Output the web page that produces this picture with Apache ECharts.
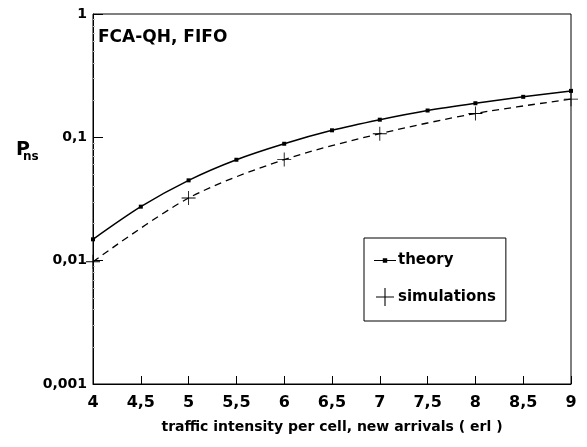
<!DOCTYPE html>
<html>
<head>
<meta charset="utf-8">
<script src="https://cdn.jsdelivr.net/npm/echarts@6/dist/echarts.min.js"></script>
<style>
  html, body { margin: 0; padding: 0; background: #fff; }
  #chart { width: 587px; height: 447px; }
</style>
</head>
<body>
<div id="chart"></div>
<script>
// traffic intensity (erl) and blocking probability
const theoryX = [4, 4.5, 5, 5.5, 6, 6.5, 7, 7.5, 8, 8.5, 9];
const theoryY = [0.0149, 0.0274, 0.0448, 0.0658, 0.0887, 0.114, 0.139, 0.165, 0.189, 0.213, 0.238];
const simX = [4, 5, 6, 7, 8, 9];
const simY = [0.0098, 0.0322, 0.066, 0.107, 0.156, 0.204];

const font = '"DejaVu Sans", "Liberation Sans", sans-serif';
const plus = 'path://M0,9.4H20V10.6H0Z M9.4,0H10.6V20H9.4Z';
// legend sample for theory: thin line with a small square in the middle
const lineSquare = 'path://M0,6.5H8V5H12V6.5H20V7.5H12V9H8V7.5H0Z';

const chart = echarts.init(document.getElementById('chart'));

const options = {
  animation: false,
  backgroundColor: '#fff',
  grid: {
    left: 93, right: 16, top: 14, bottom: 63,
    show: true, borderColor: '#000', borderWidth: 1
  },
  xAxis: {
    type: 'value',
    min: 4, max: 9, interval: 0.5,
    name: 'traffic intensity per cell, new arrivals ( erl )',
    nameLocation: 'middle',
    nameGap: 36,
    nameTextStyle: { color: '#000', fontFamily: font, fontWeight: 'bold', fontSize: 14 },
    axisLine: { lineStyle: { color: '#000', width: 1 } },
    axisTick: { inside: true, length: 8, lineStyle: { color: '#000' } },
    axisLabel: {
      color: '#000', fontFamily: font, fontWeight: 'bold', fontSize: 16, margin: 11,
      formatter: v => String(v).replace('.', ',')
    },
    splitLine: { show: false }
  },
  yAxis: {
    type: 'log',
    logBase: 10,
    min: 0.001, max: 1,
    axisLine: { lineStyle: { color: '#000', width: 1 } },
    axisTick: { inside: true, length: 10, lineStyle: { color: '#000' } },
    minorTick: { show: true, splitNumber: 9, length: 2, lineStyle: { color: '#bbb' } },
    axisLabel: {
      color: '#000', fontFamily: font, fontWeight: 'bold', fontSize: 14, margin: 6,
      formatter: v => String(+v.toPrecision(3)).replace('.', ',')
    },
    splitLine: { show: false }
  },
  legend: {
    left: 364, top: 238,
    orient: 'vertical',
    borderColor: '#000', borderWidth: 1,
    padding: [15, 10, 15, 10],
    itemGap: 20,
    itemWidth: 22, itemHeight: 18,
    textStyle: { color: '#000', fontFamily: font, fontWeight: 'bold', fontSize: 15, padding: [0, 0, 0, -3] },
    data: [
      { name: 'theory', icon: lineSquare },
      { name: 'simulations', icon: plus }
    ]
  },
  graphic: [
    {
      type: 'text', left: 98, top: 29,
      style: { text: 'FCA-QH, FIFO', fill: '#000', font: 'bold 17px ' + font }
    },
    {
      type: 'text', left: 16, top: 141,
      style: { text: 'P', fill: '#000', font: 'bold 19px ' + font }
    },
    {
      type: 'text', left: 23, top: 151,
      style: { text: 'ns', fill: '#000', font: 'bold 12px ' + font }
    }
  ],
  series: [
    {
      name: 'theory',
      type: 'line',
      data: theoryX.map((x, i) => [x, theoryY[i]]),
      smooth: 0.3,
      symbol: 'rect',
      symbolSize: 4,
      itemStyle: { color: '#000' },
      lineStyle: { color: '#000', width: 1.5 },
      z: 3
    },
    {
      name: 'simulations',
      type: 'line',
      data: simX.map((x, i) => [x, simY[i]]),
      smooth: 0.3,
      symbol: plus,
      symbolSize: 14,
      itemStyle: { color: '#000' },
      lineStyle: { color: '#000', width: 1.3, type: [7, 5] },
      z: 2
    }
  ]
};

chart.setOption(options);
</script>
</body>
</html>
